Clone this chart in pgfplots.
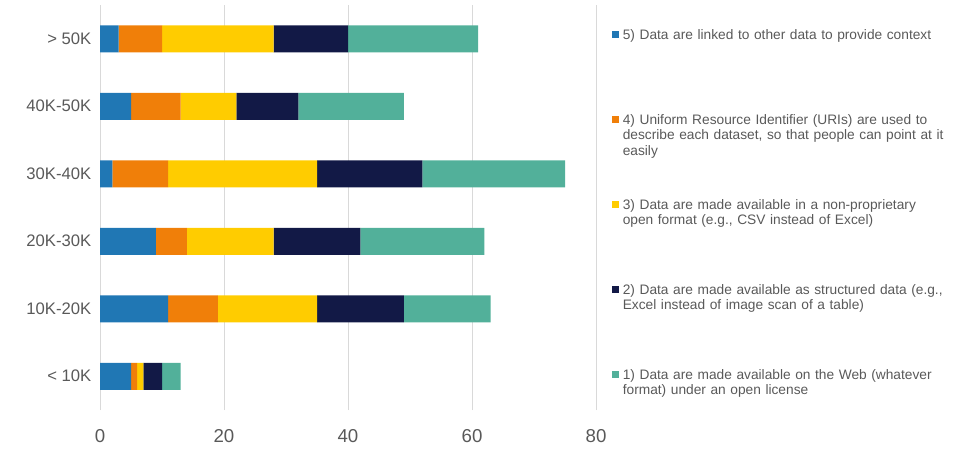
\documentclass[border=0pt]{standalone}
\usepackage{pgfplots}
\pgfplotsset{compat=1.18}
\usepackage{fontspec}
\setmainfont{Liberation Sans}

\definecolor{cBlue}{HTML}{2077B4}
\definecolor{cOrange}{HTML}{F07F09}
\definecolor{cYellow}{HTML}{FFCC00}
\definecolor{cNavy}{HTML}{121946}
\definecolor{cTeal}{HTML}{52B09A}
\definecolor{gridgray}{HTML}{D9D9D9}
\definecolor{txtgray}{HTML}{595959}

\begin{document}
\begin{tikzpicture}
\useasboundingbox (0,0) rectangle (722.25pt,337.5pt);
\begin{axis}[
    at={(75pt,30pt)}, anchor=south west,
    scale only axis,
    width=372pt, height=303.75pt,
    xbar stacked,
    bar width=0.4,
    xmin=0, xmax=80,
    ymin=-0.5, ymax=5.5,
    xtick={0,20,40,60,80},
    ytick={0,1,2,3,4,5},
    yticklabels={< 10K, 10K-20K, 20K-30K, 30K-40K, 40K-50K, > 50K},
    axis x line=bottom, axis y line=left,
    axis line style={draw=none},
    major tick length=0pt,
    xmajorgrids,
    major grid style={color=gridgray, line width=0.75pt},
    /pgf/number format/assume math mode=true,
    xticklabel style={font=\fontsize{14}{16}\selectfont, text=txtgray, yshift=-11pt},
    yticklabel style={font=\fontsize{12.5}{14}\selectfont, text=txtgray, xshift=-3pt},
    legend image code/.code={\fill[#1] (0pt,0.9pt) rectangle (5.6pt,6.5pt);},
    legend style={
        at={(1,1)}, anchor=north west, xshift=12pt, yshift=-18pt,
        draw=none, fill=none, inner sep=0pt, outer sep=0pt,
        column sep=2.5pt, row sep=0pt,
        font=\fontsize{10.3}{11.4}\selectfont,
        text=txtgray,
        cells={anchor=base west},
        nodes={inner sep=0pt, text width=260pt, align=left,
               text height=8pt, text depth=55.75pt},
    },
]
% 5) linked data
\addplot[fill=cBlue, draw=none] coordinates {(5,0) (11,1) (9,2) (2,3) (5,4) (3,5)};
\addlegendentry{5) Data are linked to other data to provide context}
% 4) URIs
\addplot[fill=cOrange, draw=none] coordinates {(1,0) (8,1) (5,2) (9,3) (8,4) (7,5)};
\addlegendentry{4) Uniform Resource Identifier (URIs) are used to\\describe each dataset, so that people can point at it\\easily}
% 3) open format
\addplot[fill=cYellow, draw=none] coordinates {(1,0) (16,1) (14,2) (24,3) (9,4) (18,5)};
\addlegendentry{3) Data are made available in a non-proprietary\\open format (e.g., CSV instead of Excel)}
% 2) structured
\addplot[fill=cNavy, draw=none] coordinates {(3,0) (14,1) (14,2) (17,3) (10,4) (12,5)};
\addlegendentry{2) Data are made available as structured data (e.g.,\\Excel instead of image scan of a table)}
% 1) on the web
\addplot[fill=cTeal, draw=none] coordinates {(3,0) (14,1) (20,2) (23,3) (17,4) (21,5)};
\addlegendentry{1) Data are made available on the Web (whatever\\format) under an open license}
\end{axis}
\end{tikzpicture}
\end{document}
